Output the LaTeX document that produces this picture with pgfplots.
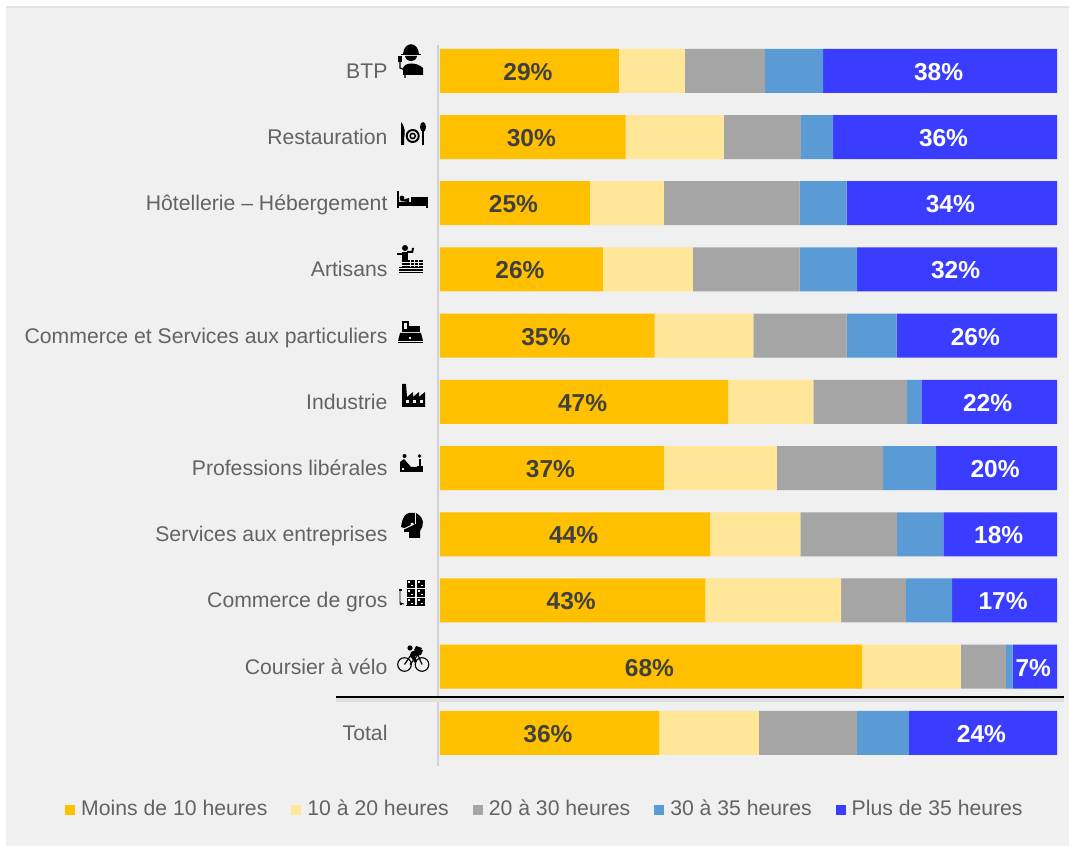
\documentclass[border=0pt]{standalone}
\usepackage{pgfplots}
\usepackage{pgfplotstable}
\usepackage{fontspec}
\setmainfont{Liberation Sans}
\pgfplotsset{compat=1.18}
\definecolor{cA}{HTML}{FFC000}
\definecolor{cB}{HTML}{FFE699}
\definecolor{cC}{HTML}{A5A5A5}
\definecolor{cD}{HTML}{5B9BD5}
\definecolor{cE}{HTML}{3A3DFF}
\definecolor{panel}{HTML}{F0F0F0}
\definecolor{txt}{HTML}{636363}
\definecolor{lab}{HTML}{404040}
\definecolor{axisc}{HTML}{D2D2D2}
\pgfplotstableread{
idx a b c d e la le
0 35.5 16.2 15.9 8.4 24.0 36\% 24\%
1 68.4 16.0 7.3 1.1 7.2 68\% 7\%
2 43.0 22.0 10.5 7.5 17.0 43\% 17\%
3 43.8 14.6 15.7 7.5 18.4 44\% 18\%
4 36.3 18.3 17.2 8.6 19.6 37\% 20\%
5 46.7 13.8 15.2 2.3 22.0 47\% 22\%
6 34.8 16.0 15.1 8.1 26.0 35\% 26\%
7 26.4 14.6 17.3 9.3 32.4 26\% 32\%
8 24.3 12.0 22.0 7.6 34.1 25\% 34\%
9 30.1 15.9 12.5 5.2 36.3 30\% 36\%
10 29.0 10.7 13.0 9.4 37.9 29\% 38\%
}\datatable
\begin{document}
\begin{tikzpicture}[x=1pt,y=1pt]
\fill[white] (0,0) rectangle (1069,846);
\fill[panel] (6,0) rectangle (1069,838);
\fill[panel!95!black] (6,838) rectangle (1069,840);
\begin{axis}[
  at={(440pt,80pt)}, anchor=south west,
  scale only axis, width=617pt, height=721pt,
  xbar stacked, bar width=44pt,
  xmin=0, xmax=100, ymin=-0.5, ymax=10.39,
  axis x line=none, axis y line=left, axis line style={draw=none},
  ytick={0,...,10},
  yticklabels={Total,Coursier à vélo,Commerce de gros,Services aux entreprises,Professions libérales,Industrie,Commerce et Services aux particuliers,Artisans,Hôtellerie – Hébergement,Restauration,BTP},
  y tick label style={font=\fontsize{21.2}{25}\selectfont, text=txt, xshift=-49pt, yshift=-2pt, text height=15pt, text depth=4pt},
  major tick length=0pt, clip=false,
  point meta=explicit symbolic,
  legend columns=5,
  legend style={at={(-375pt,-44pt)}, anchor=west, draw=none, fill=none, font=\fontsize{21.2}{25}\selectfont, text=txt,
    nodes={text height=15pt, text depth=4pt},
    /tikz/every even column/.append style={column sep=22pt},
    /tikz/every odd column/.append style={column sep=4pt}, inner sep=0pt},
  legend image code/.code={\fill[draw=none,fill=\pgfkeysvalueof{/pgfplots/legendfill}] (0pt,-5pt) rectangle (10pt,5pt);},
]
\pgfplotsset{/pgfplots/legendfill/.initial=black}
\addplot+[fill=cA, draw=none, /pgfplots/legendfill=cA, nodes near coords,
  every node near coord/.append style={font=\fontsize{24.5}{28}\selectfont\bfseries, text=lab, yshift=-1pt, xshift=-1.5pt}]
  table[x=a,y=idx,meta=la]{\datatable};
\addlegendentry{Moins de 10 heures}
\addplot+[fill=cB, draw=none, /pgfplots/legendfill=cB] table[x=b,y=idx,meta=la]{\datatable};
\addlegendentry{10 à 20 heures}
\addplot+[fill=cC, draw=none, /pgfplots/legendfill=cC] table[x=c,y=idx,meta=la]{\datatable};
\addlegendentry{20 à 30 heures}
\addplot+[fill=cD, draw=none, /pgfplots/legendfill=cD] table[x=d,y=idx,meta=la]{\datatable};
\addlegendentry{30 à 35 heures}
\addplot+[fill=cE, draw=none, /pgfplots/legendfill=cE, nodes near coords,
  every node near coord/.append style={font=\fontsize{24.5}{28}\selectfont\bfseries, text=white, yshift=-1pt, xshift=-1.5pt}]
  table[x=e,y=idx,meta=le]{\datatable};
\addlegendentry{Plus de 35 heures}
\end{axis}
\begin{scope}[shift={(0,846)},x=1pt,y=-1pt]
\draw[line width=2pt, draw=axisc] (438,45) -- (438,766);
\fill[black!12] (336,698) rectangle (1064,702);
\draw[line width=2.2pt] (336,697) -- (1064,697);
% BTP
\fill (403,54) .. controls (404,41) and (418,41) .. (419,54) -- cycle;
\fill (401,54) rectangle (421,55.5);
\fill (405,56) .. controls (406,63) and (416,63) .. (417,56) -- cycle;
\fill (403,75) -- (403,68) .. controls (405,62) and (417,62) .. (423,68) -- (423,75) -- cycle;
\draw[line width=1.2pt] (400,62) -- (400,68) -- (405,70) -- (405,78);
\fill (398,56) rectangle (402,62);
% Restauration
\fill (401,122) .. controls (406,128) and (405,134) .. (404,138) -- (404,145) -- (401,145) -- cycle;
\draw[line width=2pt] (412.7,136) circle (6);
\draw[line width=1.5pt] (412.7,136) circle (2.6);
\fill (423,127) ellipse (3 and 5);
\fill (421.8,130) rectangle (424.2,145);
% Lit
\fill (397,191) rectangle (399,208);
\fill (397,202) rectangle (428,206);
\fill (402,198) circle (2.4);
\fill (399,201) -- (409,198) -- (409,202) -- cycle;
\fill (411,197) rectangle (428,206);
\fill (426,205) rectangle (428,208);
% Artisans
\fill (405,248) circle (3);
\fill (402,252) rectangle (408,267);
\fill (397,253) rectangle (403,255);
\fill (407,253) -- (413,253) -- (414,248) -- (412,248) -- (411.5,251) -- (407,251) -- cycle;
\fill (408,260) rectangle (423,267);
\fill (399,267) rectangle (423,273);
\foreach \yy in {262.5,265,268.5,271} \draw[panel,line width=.6pt] (399,\yy) -- (423,\yy);
\fill[panel] (399,260) rectangle (402,266);
\foreach \xx in {410,414,418} \fill[panel] (\xx,260) rectangle (\xx+.8,267);
% Caisse
\fill (402,321) rectangle (409,332);
\fill[panel] (404,323) rectangle (407,329);
\fill (409,326) rectangle (420,332);
\fill (400,333) -- (421,333) -- (423,341) -- (398,341) -- cycle;
\fill (398,342) rectangle (423,343.5);
\fill[panel] (409,337) rectangle (411,339);
% Industrie
\fill (402,407) -- (402,384) -- (406,384) -- (407,397) -- (413,392) -- (413,397) -- (419,392) -- (419,397) -- (425,392) -- (425,407) -- cycle;
\foreach \xx in {406,413,420} \fill[panel] (\xx,400) rectangle (\xx+3,403);
% Professions
\fill (404.5,456) circle (2);
\fill (400,472) -- (400,462) -- (404,459) -- (411,467) -- (417,467) -- (417,472) -- cycle;
\fill (419.5,456) circle (1.8);
\fill (418.5,459) rectangle (420.5,472);
\fill (417,466) rectangle (423,472);
\fill[panel] (402,468) rectangle (404,470);
% Services
\fill (409,513) .. controls (402,515) and (402,523) .. (401,527) -- (404,528) -- (404,532) -- (409,532) -- (409,538) -- (420,538) -- (420,531) .. controls (424,526) and (425,518) .. (416,513) -- cycle;
\draw[panel,line width=1pt] (404,529) -- (414,524);
\fill[panel] (412,524) circle (1.6);
\draw[panel,line width=.8pt] (415.5,513) -- (415.5,524);
% Gros
\foreach \yy in {580,589,598} \foreach \xx in {407,417}
  {\fill (\xx,\yy) rectangle (\xx+8,\yy+8);
   \fill[panel] (\xx+1,\yy+1.5) rectangle (\xx+3,\yy+3.5);
   \fill[panel] (\xx+4,\yy+5) rectangle (\xx+6,\yy+6.5);}
\draw[line width=.9pt] (400,590) -- (400,603) -- (404,604);
\fill (398.5,589) rectangle (401.5,591);
\fill (401,604) circle (1.5);
\draw[line width=.9pt] (406,605.5) -- (425,605.5);
% Vélo
\draw[line width=1.1pt] (404.5,664.5) circle (6.8);
\draw[line width=1.1pt] (422,664.5) circle (6.8);
\draw[line width=1.2pt] (404.5,664.5) -- (411,655) -- (418,655) -- (422,664.5);
\draw[line width=1.2pt] (410,664.5) -- (417,656);
\fill (410,648) circle (2.6);
\fill (411,652) -- (416,650) -- (423,650) -- (421,655) -- (415,656) -- (417,662) -- (415,663) -- (410,656) -- cycle;
\fill (416,646) -- (422,648) -- (420,652) -- (414,650) -- cycle;
\end{scope}
\end{tikzpicture}
\end{document}
